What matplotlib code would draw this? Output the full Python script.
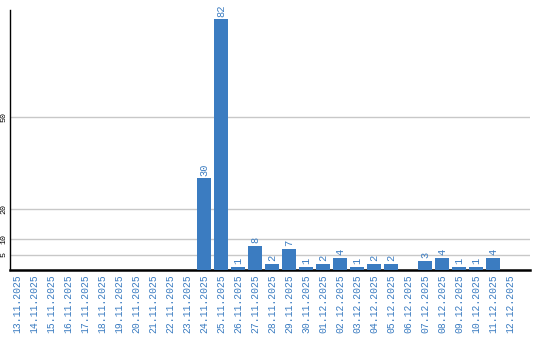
import matplotlib
matplotlib.use("Agg")
import matplotlib.pyplot as plt

dates = ["13.11.2025", "14.11.2025", "15.11.2025", "16.11.2025", "17.11.2025",
         "18.11.2025", "19.11.2025", "20.11.2025", "21.11.2025", "22.11.2025",
         "23.11.2025", "24.11.2025", "25.11.2025", "26.11.2025", "27.11.2025",
         "28.11.2025", "29.11.2025", "30.11.2025", "01.12.2025", "02.12.2025",
         "03.12.2025", "04.12.2025", "05.12.2025", "06.12.2025", "07.12.2025",
         "08.12.2025", "09.12.2025", "10.12.2025", "11.12.2025", "12.12.2025"]
values = [0, 0, 0, 0, 0, 0, 0, 0, 0, 0,
          0, 30, 82, 1, 8, 2, 7, 1, 2, 4,
          1, 2, 2, 0, 3, 4, 1, 1, 4, 0]
yticks = [5, 10, 20, 50]

bar_color = "#3b7cc1"
font = "Liberation Mono"

fig = plt.figure(figsize=(5.4, 3.4), dpi=100)
ax = fig.add_axes([10/540, 1-270/340, 520/540, 260/340])

x = list(range(len(dates)))
ax.bar(x, values, width=0.82, color=bar_color, zorder=3)
for xi, v in zip(x, values):
    if v > 0:
        ax.text(xi, v + 0.8, str(v), rotation=90, ha="center", va="bottom",
                color=bar_color, fontsize=7.5, family=font)

ax.set_xlim(-0.42, 30.18)
ax.set_ylim(0, 85)
ax.set_yticks(yticks)
ax.set_yticklabels([str(t) for t in yticks], rotation=90, va="center",
                   fontsize=6, family=font, color="black")
ax.yaxis.grid(True, color="#c8c8c8", lw=1, zorder=0)
ax.set_xticks(x)
ax.set_xticklabels(dates, rotation=90, fontsize=7, family=font, color=bar_color)
ax.tick_params(axis="both", length=0, pad=3)
ax.tick_params(axis="y", pad=2)
for s in ["top", "right"]:
    ax.spines[s].set_visible(False)
ax.spines["left"].set_linewidth(1.0)
ax.spines["bottom"].set_linewidth(1.8)

fig.savefig("out.png", dpi=100)
